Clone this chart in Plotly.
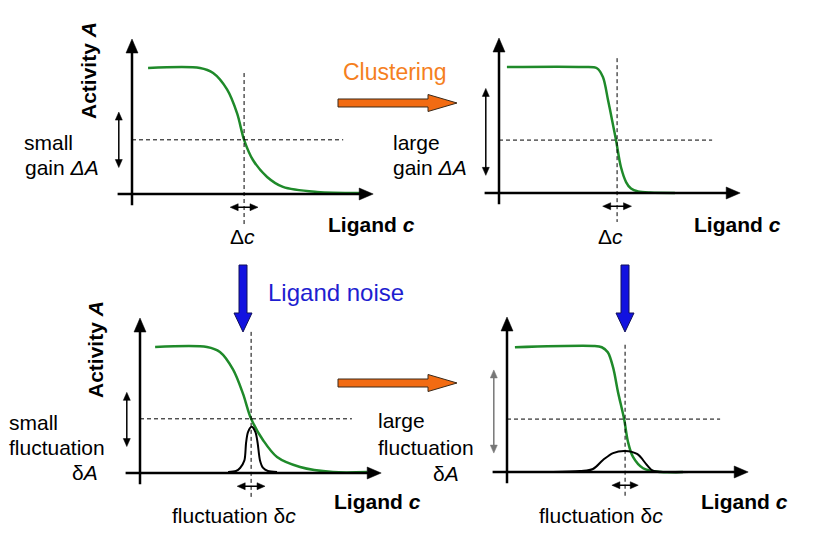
import plotly.graph_objects as go

W, H = 817, 545
OFF = 8  # page body margin of the viewer
FONT = "Liberation Sans, Arial, sans-serif"

# ---------------- data (Ligand c, Activity A) ----------------
p1_c = [0.67, 2.83, 3.38, 3.96, 4.38, 4.67, 5.04, 5.63, 6.29, 7.71, 9.5]
p1_A = [1.00, 1.00, 0.96, 0.83, 0.64, 0.43, 0.27, 0.135, 0.056, 0.016, 0.008]

p2_c = [0.33, 3.5, 4.08, 4.33, 4.54, 4.71, 4.875, 5.08, 5.3, 5.5, 5.8, 6.3, 7.33]
p2_A = [1.00, 1.00, 0.99, 0.92, 0.74, 0.58, 0.42, 0.206, 0.085, 0.035, 0.012, 0.003, 0.0]

p3_c = [0.63, 2.79, 3.33, 3.88, 4.29, 4.63, 5.13, 5.71, 6.67, 8.04, 9.46]
p3_A = [1.00, 1.00, 0.96, 0.82, 0.63, 0.43, 0.26, 0.127, 0.048, 0.008, 0.008]

p4_c = [0.33, 3.6, 3.95, 4.2, 4.42, 4.63, 4.88, 5.04, 5.25, 5.67, 6.38, 7.33]
p4_A = [0.99, 1.00, 0.99, 0.95, 0.83, 0.63, 0.42, 0.24, 0.12, 0.03, 0.0, 0.0]

# ligand-noise distributions (black peaks)
g3_c = [3.67, 4.0, 4.17, 4.35, 4.42, 4.5, 4.65, 4.81, 4.9, 5.0, 5.13, 5.33, 5.71]
g3_A = [0.008, 0.016, 0.04, 0.10, 0.24, 0.325, 0.367, 0.325, 0.24, 0.10, 0.04, 0.016, 0.008]

g4_c = [1.92, 3.04, 3.58, 4.0, 4.42, 4.92, 5.42, 5.83, 6.08, 6.67, 7.62]
g4_A = [0.0, 0.008, 0.024, 0.095, 0.15, 0.167, 0.143, 0.056, 0.01, 0.0, 0.0]

# operating point (midpoint) per panel, its activity level and dc half-width
mid_c = [4.67, 4.92, 4.63, 4.92]
mid_A = [0.43, 0.42, 0.43, 0.42]
dc_half = [0.58, 0.6, 0.58, 0.55]
# vertical gain / fluctuation arrow (bottom, top) per panel
gain_lo = [0.21, 0.14, 0.21, 0.15]
gain_hi = [0.65, 0.83, 0.64, 0.81]
vdash_top = [0.96, 1.07, 1.12, 1.01]
vdash_bot = [-0.26, -0.23, -0.20, -0.20]
hdash_end = [8.8, 8.88, 8.83, 8.88]

curves_c = [p1_c, p2_c, p3_c, p4_c]
curves_A = [p1_A, p2_A, p3_A, p4_A]

# ---------------- layout geometry ----------------
panels = [dict(ox=132, oy=194), dict(ox=499, oy=193), dict(ox=140, oy=473), dict(ox=507, oy=472)]
SX, SY = 24.0, 126.0
XR = [-4.5, 12.0]
YR = [-0.55, 1.35]
C_TIP, A_TIP = 10.05, 1.23

GREEN = "#1f8a2a"
ORANGE = "#f26b12"
BLUE = "#1212e0"

fig = go.Figure()
shapes = []
annotations = []


def pp(x, y):
    return (x - OFF) / W, 1 - (y - OFF) / H


for i, p in enumerate(panels):
    n = i + 1
    sfx = "" if n == 1 else str(n)
    x0 = (p["ox"] - OFF + XR[0] * SX) / W
    x1 = (p["ox"] - OFF + XR[1] * SX) / W
    y0 = 1 - (p["oy"] - OFF - YR[0] * SY) / H
    y1 = 1 - (p["oy"] - OFF - YR[1] * SY) / H
    fig.update_layout(**{
        "xaxis" + sfx: dict(domain=[x0, x1], range=XR, visible=False, fixedrange=True,
                            anchor="y" + sfx),
        "yaxis" + sfx: dict(domain=[y0, y1], range=YR, visible=False, fixedrange=True,
                            anchor="x" + sfx),
    })

xr = lambda n: "x" if n == 1 else "x%d" % n
yr = lambda n: "y" if n == 1 else "y%d" % n


def line(n, xa, ya, xb, yb, color="black", width=2.5, dash="solid"):
    shapes.append(dict(type="line", xref=xr(n), yref=yr(n), x0=xa, y0=ya, x1=xb, y1=yb,
                       line=dict(color=color, width=width, dash=dash), layer="above"))


def head(n, tx, ty, direction, L, hw, color="black"):
    # direction: 'r','l','u','d'; L, hw in pixels
    if direction == "r":
        pts = [(tx, ty), (tx - L / SX, ty + hw / SY), (tx - L / SX, ty - hw / SY)]
    elif direction == "l":
        pts = [(tx, ty), (tx + L / SX, ty + hw / SY), (tx + L / SX, ty - hw / SY)]
    elif direction == "u":
        pts = [(tx, ty), (tx - hw / SX, ty - L / SY), (tx + hw / SX, ty - L / SY)]
    else:
        pts = [(tx, ty), (tx - hw / SX, ty + L / SY), (tx + hw / SX, ty + L / SY)]
    path = "M %f,%f L %f,%f L %f,%f Z" % (pts[0] + pts[1] + pts[2])
    shapes.append(dict(type="path", xref=xr(n), yref=yr(n), path=path,
                       fillcolor=color, line=dict(color=color, width=0.5), layer="above"))


for i in range(4):
    n = i + 1
    fig.add_trace(go.Scatter(x=curves_c[i], y=curves_A[i], mode="lines",
                             line=dict(color=GREEN, width=2.5, shape="spline", smoothing=0.9),
                             xaxis=xr(n), yaxis=yr(n), showlegend=False, hoverinfo="skip"))
    # axes with arrowheads
    line(n, -0.6, 0, C_TIP - 12 / SX, 0)
    head(n, C_TIP, 0, "r", 14, 6)
    line(n, 0, -0.09, 0, A_TIP - 12 / SY)
    head(n, 0, A_TIP, "u", 14, 6)
    # dashed guide lines
    line(n, 0, mid_A[i], hdash_end[i], mid_A[i], width=1, dash="4px,3px")
    line(n, mid_c[i], vdash_top[i], mid_c[i], vdash_bot[i], width=1, dash="4px,3px")
    # small horizontal double arrow (delta c)
    ya = -0.105
    line(n, mid_c[i] - dc_half[i] + 6 / SX, ya, mid_c[i] + dc_half[i] - 6 / SX, ya, width=1.5)
    head(n, mid_c[i] - dc_half[i], ya, "l", 8, 3.5)
    head(n, mid_c[i] + dc_half[i], ya, "r", 8, 3.5)
    # vertical double arrow (gain / fluctuation)
    gc = -0.55
    col = "#777777" if n == 4 else "black"
    line(n, gc, gain_lo[i] + 6 / SY, gc, gain_hi[i] - 6 / SY, width=1.5, color=col)
    head(n, gc, gain_hi[i], "u", 8, 3.5, color=col)
    head(n, gc, gain_lo[i], "d", 8, 3.5, color=col)

# noise distributions
fig.add_trace(go.Scatter(x=g3_c, y=g3_A, mode="lines",
                         line=dict(color="black", width=2, shape="spline", smoothing=0.8),
                         xaxis="x3", yaxis="y3", showlegend=False, hoverinfo="skip"))
fig.add_trace(go.Scatter(x=g4_c, y=g4_A, mode="lines",
                         line=dict(color="black", width=2, shape="spline", smoothing=1.0),
                         xaxis="x4", yaxis="y4", showlegend=False, hoverinfo="skip"))


# block arrows between panels (paper coordinates)
def block_right(x0, x1, yc, t, hl, hh, color):
    xb = x1 - hl
    pts = [(x0, yc - t), (xb, yc - t), (xb, yc - hh), (x1, yc), (xb, yc + hh), (xb, yc + t), (x0, yc + t)]
    path = "M " + " L ".join("%f,%f" % pp(*q) for q in pts) + " Z"
    shapes.append(dict(type="path", xref="paper", yref="paper", path=path,
                       fillcolor=color, line=dict(color="#3a2a1a", width=1), layer="above"))


def block_down(xc, y0, y1, t, hl, hh, color):
    yb = y1 - hl
    pts = [(xc - t, y0), (xc - t, yb), (xc - hh, yb), (xc, y1), (xc + hh, yb), (xc + t, yb), (xc + t, y0)]
    path = "M " + " L ".join("%f,%f" % pp(*q) for q in pts) + " Z"
    shapes.append(dict(type="path", xref="paper", yref="paper", path=path,
                       fillcolor=color, line=dict(color="#10105a", width=1), layer="above"))


block_right(338, 457, 103, 4, 29, 8.5, ORANGE)
block_right(338, 457, 383, 4, 29, 8.5, ORANGE)
block_down(243, 265, 332, 4, 19, 9, BLUE)
block_down(625, 265, 332, 4, 19, 9, BLUE)


def text(s, x, y, size=21, color="black", xanchor="left", angle=0):
    px, py = pp(x, y)
    annotations.append(dict(text=s, x=px, y=py, xref="paper", yref="paper", showarrow=False,
                            xanchor=xanchor, yanchor="middle", textangle=angle,
                            font=dict(family=FONT, size=size, color=color)))


# panel 1
text("<b>Activity <i>A</i></b>", 88, 71, angle=-90, xanchor="center")
text("small", 22, 142)
text("gain <i>ΔA</i>", 23, 167)
text("<b>Ligand <i>c</i></b>", 326, 224)
text("Δ<i>c</i>", 243, 237, xanchor="center")
# panel 2
text("large", 391, 142)
text("gain <i>ΔA</i>", 391, 167)
text("<b>Ligand <i>c</i></b>", 692, 224)
text("Δ<i>c</i>", 610, 236, xanchor="center")
# panel 3
text("<b>Activity <i>A</i></b>", 95, 350, angle=-90, xanchor="center")
text("small", 7, 422)
text("fluctuation", 7, 447)
text("δ<i>A</i>", 70, 472)
text("<b>Ligand <i>c</i></b>", 332, 501)
text("fluctuation δ<i>c</i>", 170, 515)
# panel 4
text("large", 376, 420)
text("fluctuation", 376, 447)
text("δ<i>A</i>", 431, 473)
text("<b>Ligand <i>c</i></b>", 699, 501)
text("fluctuation δ<i>c</i>", 537, 515)
# transitions
text("Clustering", 341, 72, size=23, color="#f5801e")
text("Ligand noise", 266, 292, size=24, color="#1e1ed0")

fig.update_layout(width=W, height=H, margin=dict(l=0, r=0, t=0, b=0),
                  paper_bgcolor="white", plot_bgcolor="rgba(0,0,0,0)",
                  shapes=shapes, annotations=annotations, showlegend=False)

fig.write_html("out.html")
